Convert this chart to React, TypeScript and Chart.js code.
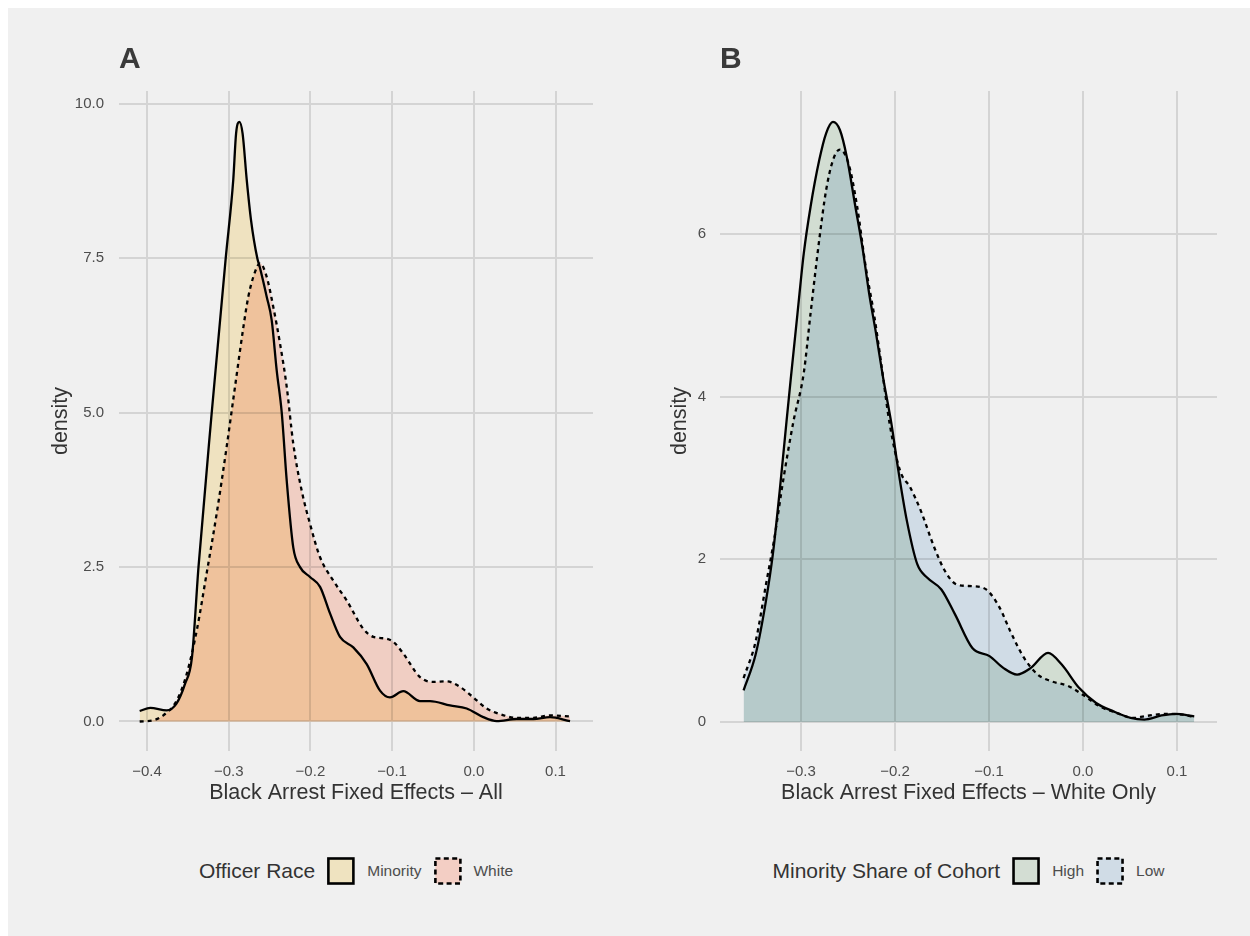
import React, { useEffect, useRef } from "react";
import { Chart, registerables } from "chart.js";

Chart.register(...registerables);

const FONT = "'Liberation Sans', Arial, Helvetica, sans-serif";

// ---------- Panel A: Black Arrest Fixed Effects – All ----------
const minorityX = [-0.409, -0.396, -0.376, -0.364, -0.3535, -0.345, -0.337, -0.3208, -0.3037, -0.2944, -0.291, -0.287, -0.283, -0.278, -0.2727, -0.265, -0.262, -0.2535, -0.2474, -0.2413, -0.2351, -0.229, -0.221, -0.2127, -0.2005, -0.1882, -0.176, -0.1638, -0.1475, -0.1311, -0.1148, -0.1026, -0.0863, -0.0659, -0.0536, -0.0291, -0.0087, 0.0116, 0.028, 0.0525, 0.0729, 0.0933, 0.1178];
const minorityY = [0.17, 0.22, 0.18, 0.29, 0.61, 1.04, 2.5, 5.0, 7.5, 8.78, 9.52, 9.71, 9.52, 8.78, 8.12, 7.5, 7.36, 6.88, 6.5, 5.69, 5.0, 3.9, 2.82, 2.5, 2.34, 2.18, 1.75, 1.37, 1.2, 0.93, 0.5, 0.39, 0.49, 0.33, 0.33, 0.26, 0.21, 0.07, 0.005, 0.04, 0.04, 0.07, 0.005];
const whiteX = [-0.409, -0.392, -0.38, -0.3636, -0.3514, -0.3392, -0.327, -0.3147, -0.3025, -0.2923, -0.282, -0.276, -0.2678, -0.2617, -0.2535, -0.2454, -0.2372, -0.229, -0.221, -0.2107, -0.2005, -0.1882, -0.172, -0.1556, -0.1352, -0.123, -0.1066, -0.0985, -0.0863, -0.0659, -0.0496, -0.0332, -0.0169, -0.0006, 0.0158, 0.032, 0.0525, 0.0729, 0.0933, 0.1178];
const whiteY = [0.0, 0.02, 0.1, 0.34, 0.77, 1.47, 2.4, 3.37, 4.45, 5.42, 6.39, 6.88, 7.28, 7.42, 7.2, 6.71, 6.12, 5.42, 4.5, 3.74, 3.2, 2.66, 2.28, 1.96, 1.5, 1.37, 1.34, 1.29, 1.1, 0.72, 0.64, 0.65, 0.56, 0.39, 0.21, 0.12, 0.06, 0.06, 0.1, 0.08];
const xTicksA = [-0.4, -0.3, -0.2, -0.1, 0.0, 0.1];
const xTickLabelsA = ["\u22120.4", "\u22120.3", "\u22120.2", "\u22120.1", "0.0", "0.1"];
const yTicksA = [0, 2.5, 5, 7.5, 10];
const yTickLabelsA = ["0.0", "2.5", "5.0", "7.5", "10.0"];
const legendLabelsA = ["Minority", "White"];

// ---------- Panel B: Black Arrest Fixed Effects – White Only ----------
const highX = [-0.3611, -0.3483, -0.3373, -0.33, -0.3227, -0.3154, -0.311, -0.3037, -0.2971, -0.2898, -0.2806, -0.2733, -0.266, -0.2586, -0.2513, -0.2422, -0.2348, -0.2275, -0.2202, -0.2129, -0.2037, -0.1964, -0.1873, -0.1763, -0.1653, -0.1507, -0.136, -0.1177, -0.0994, -0.0848, -0.0701, -0.0555, -0.0372, -0.0226, -0.0042, 0.014, 0.0324, 0.0507, 0.0653, 0.0836, 0.0982, 0.1184];
const highY = [0.39, 0.83, 1.49, 2.06, 2.84, 3.7, 4.21, 5.03, 5.76, 6.34, 6.91, 7.24, 7.38, 7.28, 6.95, 6.34, 5.85, 5.27, 4.78, 4.25, 3.66, 3.09, 2.47, 1.94, 1.77, 1.63, 1.32, 0.91, 0.81, 0.665, 0.583, 0.665, 0.85, 0.706, 0.42, 0.234, 0.13, 0.05, 0.03, 0.08, 0.1, 0.07];
const lowX = [-0.3611, -0.3483, -0.3373, -0.3282, -0.319, -0.308, -0.2971, -0.2898, -0.2806, -0.2733, -0.266, -0.2586, -0.2495, -0.2403, -0.2312, -0.222, -0.2147, -0.2056, -0.1946, -0.1836, -0.1726, -0.158, -0.147, -0.1342, -0.1177, -0.1031, -0.0884, -0.0775, -0.0628, -0.0482, -0.0335, -0.0152, -0.0006, 0.0177, 0.036, 0.0543, 0.0653, 0.0873, 0.1056, 0.1184];
const lowY = [0.54, 0.99, 1.69, 2.27, 2.97, 3.7, 4.29, 5.03, 5.93, 6.54, 6.91, 7.04, 6.87, 6.34, 5.6, 4.99, 4.41, 3.66, 3.09, 2.88, 2.6, 2.14, 1.86, 1.69, 1.67, 1.63, 1.4, 1.12, 0.79, 0.583, 0.5, 0.44, 0.337, 0.193, 0.11, 0.05, 0.07, 0.1, 0.09, 0.06];
const xTicksB = [-0.3, -0.2, -0.1, 0.0, 0.1];
const xTickLabelsB = ["\u22120.3", "\u22120.2", "\u22120.1", "0.0", "0.1"];
const yTicksB = [0, 2, 4, 6];
const yTickLabelsB = ["0", "2", "4", "6"];
const legendLabelsB = ["High", "Low"];

const BG = "#f0f0f0";

const blendPlugin = {
  id: "blendBg",
  beforeDraw(chart: any) {
    const { ctx, width, height } = chart;
    ctx.save();
    ctx.fillStyle = BG;
    ctx.fillRect(0, 0, width, height);
    ctx.restore();
  },
  beforeDatasetsDraw(chart: any) {
    chart.ctx.save();
    chart.ctx.globalCompositeOperation = "multiply";
  },
  afterDatasetsDraw(chart: any) {
    chart.ctx.restore();
  },
};

function labelFor(ticks: number[], labels: string[]) {
  return (value: any) => {
    const i = ticks.findIndex((t) => Math.abs(t - Number(value)) < 1e-9);
    return i >= 0 ? labels[i] : "";
  };
}

type Series = { x: number[]; y: number[]; fill: string; dash: boolean };

function buildConfig(p: {
  series: Series[];
  xMin: number; xMax: number; yMin: number; yMax: number;
  xTicks: number[]; xLabels: string[]; yTicks: number[]; yLabels: string[];
  xTitle: string; padLeft: number; padRight: number; yTickPad: number; yTitlePad: number;
}) {
  return {
    type: "line" as const,
    data: {
      datasets: p.series.map((s) => ({
        data: s.x.map((x, i) => ({ x, y: s.y[i] })),
        borderColor: "#000000",
        borderWidth: 2.3,
        borderDash: s.dash ? [4, 4] : [],
        borderCapStyle: "butt",
        backgroundColor: s.fill,
        fill: "origin",
        pointRadius: 0,
        cubicInterpolationMode: "monotone",
      })),
    },
    options: {
      animation: false,
      responsive: false,
      devicePixelRatio: 1,
      events: [],
      layout: { padding: { left: p.padLeft, right: p.padRight, top: 83, bottom: 27 } },
      plugins: { legend: { display: false }, tooltip: { enabled: false }, title: { display: false } },
      scales: {
        x: {
          type: "linear",
          min: p.xMin,
          max: p.xMax,
          border: { display: false },
          grid: { color: "#d4d4d4", lineWidth: 2, drawTicks: false },
          ticks: {
            padding: 12,
            color: "#4d4d4d",
            font: { size: 15, family: FONT },
            maxRotation: 0,
            autoSkip: false,
            callback: labelFor(p.xTicks, p.xLabels),
          },
          afterBuildTicks: (s: any) => { s.ticks = p.xTicks.map((v) => ({ value: v })); },
          afterFit: (s: any) => { s.height = 60; },
          title: { display: true, text: p.xTitle, color: "#333333", font: { size: 21.5, family: FONT }, padding: { top: 0, bottom: 5 } },
        },
        y: {
          type: "linear",
          min: p.yMin,
          max: p.yMax,
          border: { display: false },
          grid: { color: "#d4d4d4", lineWidth: 2, drawTicks: false },
          ticks: {
            padding: p.yTickPad,
            color: "#4d4d4d",
            font: { size: 15, family: FONT },
            autoSkip: false,
            callback: labelFor(p.yTicks, p.yLabels),
          },
          afterBuildTicks: (s: any) => { s.ticks = p.yTicks.map((v) => ({ value: v })); },
          afterFit: (s: any) => { s.width = 72; },
          title: { display: true, text: "density", color: "#333333", font: { size: 21.5, family: FONT }, padding: { top: p.yTitlePad, bottom: 0 } },
        },
      },
    },
    plugins: [blendPlugin],
  };
}

function Panel({ config, left, width }: { config: any; left: number; width: number }) {
  const ref = useRef<HTMLCanvasElement | null>(null);
  useEffect(() => {
    if (!ref.current) return;
    const chart = new Chart(ref.current, config);
    return () => chart.destroy();
  }, [config]);
  return (
    <canvas
      ref={ref}
      width={width}
      height={830}
      style={{ position: "absolute", left, top: 0, width, height: 830 }}
    />
  );
}

function LegendBox({ color, dash }: { color: string; dash: boolean }) {
  return (
    <svg width={28} height={28} style={{ display: "block" }}>
      <rect x={1.5} y={1.5} width={25} height={25} fill={color} stroke="#000" strokeWidth={2.6} strokeDasharray={dash ? "5 3.4" : undefined} />
    </svg>
  );
}

function Legend({ center, title, labels, colors }: { center: number; title: string; labels: string[]; colors: string[] }) {
  return (
    <div
      style={{
        position: "absolute",
        left: center,
        top: 863,
        transform: "translate(-50%, -50%)",
        display: "flex",
        alignItems: "center",
        whiteSpace: "nowrap",
        fontFamily: FONT,
      }}
    >
      <span style={{ fontSize: 21, color: "#333333", marginRight: 12 }}>{title}</span>
      {labels.map((lab, i) => (
        <React.Fragment key={lab}>
          <LegendBox color={colors[i]} dash={i === 1} />
          <span style={{ fontSize: 15.5, color: "#4d4d4d", marginLeft: 12, marginRight: i === labels.length - 1 ? 0 : 12 }}>{lab}</span>
        </React.Fragment>
      ))}
    </div>
  );
}

const configA = buildConfig({
  series: [
    { x: minorityX, y: minorityY, fill: "rgb(254,241,204)", dash: false },
    { x: whiteX, y: whiteY, fill: "rgb(255,219,208)", dash: true },
  ],
  xMin: -0.4343, xMax: 0.1459, yMin: -0.478, yMax: 10.21,
  xTicks: xTicksA, xLabels: xTickLabelsA, yTicks: yTicksA, yLabels: yTickLabelsA,
  xTitle: "Black Arrest Fixed Effects \u2013 All",
  padLeft: 39, padRight: 35, yTickPad: 15, yTitlePad: 1,
});

const configB = buildConfig({
  series: [
    { x: highX, y: highY, fill: "rgb(224,235,224)", dash: false },
    { x: lowX, y: lowY, fill: "rgb(221,234,245)", dash: true },
  ],
  xMin: -0.3862, xMax: 0.1426, yMin: -0.357, yMax: 7.76,
  xTicks: xTicksB, xLabels: xTickLabelsB, yTicks: yTicksB, yLabels: yTickLabelsB,
  xTitle: "Black Arrest Fixed Effects \u2013 White Only",
  padLeft: 20, padRight: 25, yTickPad: 14, yTitlePad: 19,
});

export default function App() {
  return (
    <div
      style={{
        position: "fixed",
        left: 8,
        top: 8,
        width: 1242,
        height: 928,
        background: BG,
        overflow: "hidden",
        fontFamily: FONT,
      }}
    >
      <Panel config={configA} left={0} width={620} />
      <Panel config={configB} left={620} width={614} />
      <div style={{ position: "absolute", left: 111, top: 35, fontSize: 30, lineHeight: "30px", fontWeight: 700, color: "#3a3a3a" }}>A</div>
      <div style={{ position: "absolute", left: 712, top: 35, fontSize: 30, lineHeight: "30px", fontWeight: 700, color: "#3a3a3a" }}>B</div>
      <Legend center={348} title="Officer Race" labels={legendLabelsA} colors={["#efe3c0", "#f3cec4"]} />
      <Legend center={960.5} title="Minority Share of Cohort" labels={legendLabelsB} colors={["#d3ddd3", "#d0dce6"]} />
    </div>
  );
}
